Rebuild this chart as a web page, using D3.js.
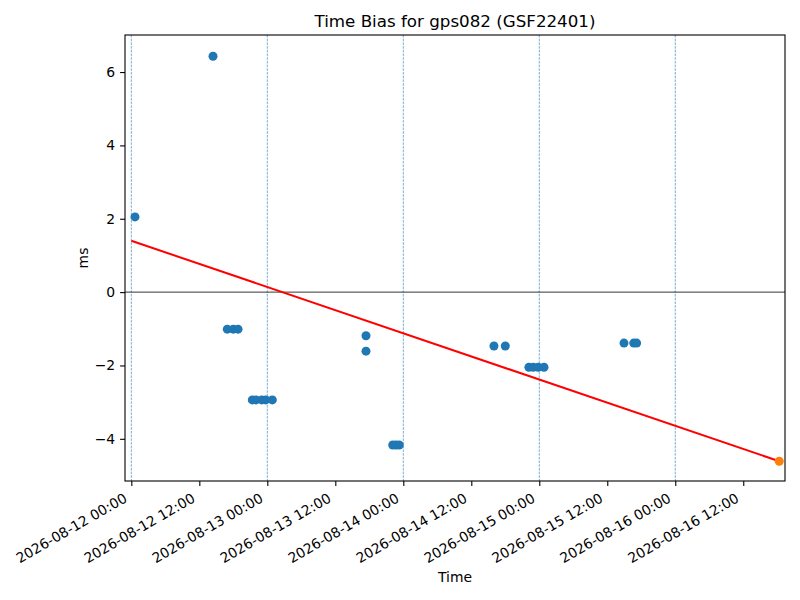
<!DOCTYPE html>
<html>
<head>
<meta charset="utf-8">
<script src="https://cdn.jsdelivr.net/npm/d3@7"></script>
<style>
  body { margin: 0; background: #fff; }
  text { font-family: "DejaVu Sans", sans-serif; fill: #000; }
</style>
</head>
<body>
<div id="okvir"></div>
<script>
// measured time bias samples (UTC)
const vremena = [
  "2026-08-12T00:39", "2026-08-12T14:25",
  "2026-08-12T16:56", "2026-08-12T18:00", "2026-08-12T18:50",
  "2026-08-12T21:21", "2026-08-12T22:00", "2026-08-12T23:01", "2026-08-12T23:43", "2026-08-13T00:53",
  "2026-08-13T17:25", "2026-08-13T17:25",
  "2026-08-13T22:08", "2026-08-13T22:43", "2026-08-13T23:17",
  "2026-08-14T16:00", "2026-08-14T18:00",
  "2026-08-14T22:10", "2026-08-14T22:56", "2026-08-14T23:49", "2026-08-15T00:50",
  "2026-08-15T14:57", "2026-08-15T16:40", "2026-08-15T17:11",
]
const bias = [
  2.05, 6.43,
  -1.01, -1.01, -1.01,
  -2.94, -2.94, -2.94, -2.94, -2.94,
  -1.19, -1.61,
  -4.17, -4.17, -4.17,
  -1.47, -1.47,
  -2.05, -2.05, -2.05, -2.05,
  -1.39, -1.39, -1.39,
]
// predicted point and fitted trend
const predikcija = { vrijeme: "2026-08-16T18:21", bias: -4.61 }
const trendVremena = ["2026-08-12T00:00", "2026-08-16T18:21"]
const trendBias = [1.40, -4.61]
const dani = ["2026-08-12", "2026-08-13", "2026-08-14", "2026-08-15", "2026-08-16"]
const xGranice = ["2026-08-11T22:53", "2026-08-16T19:22"]
const yGranice = [-5.15, 7.01]
const yTickovi = [-4, -2, 0, 2, 4, 6]

const parsiraj = d3.utcParse("%Y-%m-%dT%H:%M")
const parsirajDan = d3.utcParse("%Y-%m-%d")

const dataset = vremena.map((v, i) => ({ t: parsiraj(v), y: bias[i] }))
const trend = trendVremena.map((v, i) => ({ t: parsiraj(v), y: trendBias[i] }))

// dimenzije
let dimenzije = {
  sirina: 800,
  visina: 600,
  margine: { top: 35, right: 15, bottom: 119, left: 125 },
}
dimenzije.grSirina = dimenzije.sirina - dimenzije.margine.left - dimenzije.margine.right
dimenzije.grVisina = dimenzije.visina - dimenzije.margine.top - dimenzije.margine.bottom

const okvir = d3.select("#okvir")
  .append("svg")
    .attr("width", dimenzije.sirina)
    .attr("height", dimenzije.visina)

const granice = okvir.append("g")
  .attr("transform", `translate(${dimenzije.margine.left},${dimenzije.margine.top})`)

// skale
const xSkala = d3.scaleUtc()
  .domain(xGranice.map(parsiraj))
  .range([0, dimenzije.grSirina])

const ySkala = d3.scaleLinear()
  .domain(yGranice)
  .range([dimenzije.grVisina, 0])

// vertical dashed lines at midnight
granice.append("g")
  .selectAll("line")
  .data(dani.map(parsirajDan))
  .join("line")
    .attr("x1", d => xSkala(d))
    .attr("x2", d => xSkala(d))
    .attr("y1", 0)
    .attr("y2", dimenzije.grVisina)
    .attr("stroke", "#1f77b4")
    .attr("stroke-opacity", 0.85)
    .attr("stroke-width", 0.7)
    .attr("stroke-dasharray", "2.6,1.1")

// zero line
granice.append("line")
  .attr("x1", 0)
  .attr("x2", dimenzije.grSirina)
  .attr("y1", ySkala(0))
  .attr("y2", ySkala(0))
  .attr("stroke", "#000")
  .attr("stroke-width", 0.8)

// points
granice.append("g")
  .selectAll("circle")
  .data(dataset)
  .join("circle")
    .attr("cx", d => xSkala(d.t))
    .attr("cy", d => ySkala(d.y))
    .attr("r", 4.5)
    .attr("fill", "#1f77b4")

// trend line
granice.append("path")
  .datum(trend)
  .attr("fill", "none")
  .attr("stroke", "#ff0000")
  .attr("stroke-width", 2)
  .attr("d", d3.line().x(d => xSkala(d.t)).y(d => ySkala(d.y)))

granice.append("circle")
  .attr("cx", xSkala(parsiraj(predikcija.vrijeme)))
  .attr("cy", ySkala(predikcija.bias))
  .attr("r", 4.5)
  .attr("fill", "#ff7f0e")

// osi
const xTickovi = d3.utcHour.every(12).range(parsirajDan(dani[0]), parsiraj(xGranice[1]))
const xOsGenerator = d3.axisBottom(xSkala)
  .tickValues(xTickovi)
  .tickFormat(d3.utcFormat("%Y-%m-%d %H:%M"))
  .tickSizeInner(4.9)
  .tickSizeOuter(0)

const xOs = granice.append("g")
  .attr("transform", `translate(0,${dimenzije.grVisina})`)
  .call(xOsGenerator)

xOs.select(".domain").remove()
xOs.selectAll(".tick line").attr("stroke-width", 1.1)
xOs.selectAll(".tick text")
  .attr("font-size", 13.9)
  .attr("text-anchor", "end")
  .attr("y", 0)
  .attr("dy", 0)
  .attr("transform", "translate(-2,23) rotate(-30) translate(0,-3.5)")

const yOsGenerator = d3.axisLeft(ySkala)
  .tickValues(yTickovi)
  .tickFormat(d => d < 0 ? "\u2212" + Math.abs(d) : d)
  .tickSizeInner(4.9)
  .tickSizeOuter(0)
  .tickPadding(4.9)

const yOs = granice.append("g").call(yOsGenerator)
yOs.select(".domain").remove()
yOs.selectAll(".tick line").attr("stroke-width", 1.1)
yOs.selectAll(".tick text").attr("font-size", 13.9)

// okvir grafa
granice.append("rect")
  .attr("width", dimenzije.grSirina)
  .attr("height", dimenzije.grVisina)
  .attr("fill", "none")
  .attr("stroke", "#000")
  .attr("stroke-width", 1.1)

// natpisi
okvir.append("text")
  .attr("x", dimenzije.margine.left + dimenzije.grSirina / 2)
  .attr("y", 27)
  .attr("text-anchor", "middle")
  .attr("font-size", 16.7)
  .text("Time Bias for gps082 (GSF22401)")

okvir.append("text")
  .attr("x", dimenzije.margine.left + dimenzije.grSirina / 2)
  .attr("y", 582)
  .attr("text-anchor", "middle")
  .attr("font-size", 13.9)
  .text("Time")

okvir.append("text")
  .attr("transform", `translate(88,${dimenzije.margine.top + dimenzije.grVisina / 2}) rotate(-90)`)
  .attr("text-anchor", "middle")
  .attr("font-size", 13.9)
  .text("ms")
</script>
</body>
</html>
